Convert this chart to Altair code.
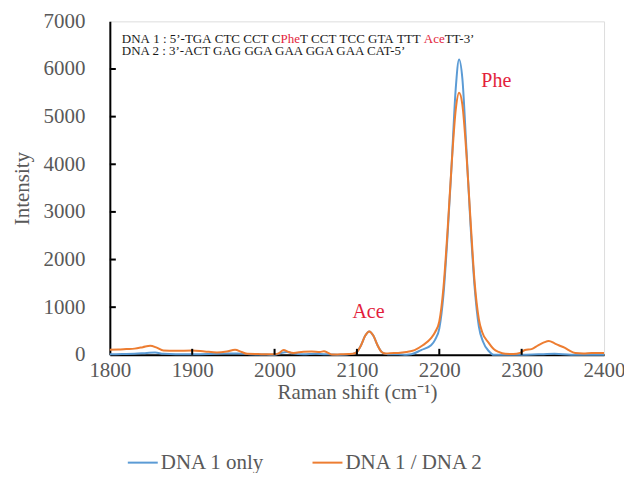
import altair as alt
import pandas as pd

# ---------------- data ----------------
blue_x = [1800, 1815, 1830, 1845, 1855, 1865, 1880, 1900, 1920, 1940, 1955, 1970, 1990, 2000,
          2008, 2015, 2022, 2035, 2050, 2065, 2080, 2095, 2100, 2105, 2110, 2115, 2120, 2125,
          2130, 2135, 2140, 2150, 2160, 2166, 2178, 2190, 2195, 2200, 2205, 2210, 2215, 2220,
          2224, 2228, 2233, 2238, 2243, 2248, 2253, 2260, 2266, 2280, 2300, 2320, 2340, 2360,
          2380, 2400]
blue_y = [10, 15, 20, 40, 50, 20, 10, 10, 15, 25, 30, 10, 5, 0,
          40, 60, 30, 10, 20, 10, 0, 20, 60, 200, 400, 490, 400, 200,
          60, 20, 10, 10, 0, 10, 100, 200, 320, 550, 1250, 2500, 4000, 5600,
          6200, 5800, 4300, 2700, 1400, 600, 280, 80, 0, 0, 0, 10, 20, 0,
          0, 0]

orange_x = [1800, 1810, 1820, 1830, 1840, 1849, 1857, 1865, 1880, 1900, 1915, 1930, 1942, 1952,
            1960, 1967, 1980, 1999, 2005, 2011, 2017, 2023, 2035, 2045, 2055, 2060, 2065, 2070,
            2080, 2090, 2095, 2100, 2105, 2110, 2115, 2120, 2125, 2130, 2135, 2140, 2150, 2160,
            2170, 2180, 2190, 2195, 2200, 2205, 2210, 2215, 2220, 2224, 2228, 2233, 2238, 2243,
            2248, 2252, 2260, 2266, 2272, 2280, 2290, 2298, 2304, 2312, 2320, 2327, 2333, 2340,
            2345, 2352, 2357, 2365, 2375, 2385, 2400]
orange_y = [105, 110, 120, 130, 160, 190, 150, 90, 85, 90, 70, 50, 70, 105,
            60, 20, 15, 10, 30, 100, 60, 40, 65, 70, 60, 75, 40, 5,
            10, 15, 20, 60, 200, 400, 490, 400, 200, 60, 25, 35, 40, 60,
            100, 200, 350, 480, 700, 1400, 2600, 4000, 5150, 5500, 5250, 4200, 2800, 1500,
            750, 480, 250, 120, 60, 20, 15, 40, 100, 120, 200, 260, 290, 240,
            200, 150, 100, 40, 30, 40, 40]

series_names = ["DNA 1 only", "DNA 1 / DNA 2"]
series_colors = ["#5B9BD5", "#ED7D31"]

x_ticks = [1800, 1900, 2000, 2100, 2200, 2300, 2400]
y_ticks = [0, 1000, 2000, 3000, 4000, 5000, 6000, 7000]
inner_x_ticks = [1900, 2000, 2100, 2200, 2300]
inner_y_ticks = [1000, 2000, 3000, 4000, 5000, 6000]

NB = "\u00a0"
line1_parts = ["DNA" + NB + "1" + NB + ":" + NB + "5\u2019-TGA" + NB + "CTC" + NB + "CCT" + NB + "C",
               "Phe",
               "T" + NB + "CCT" + NB + "TCC" + NB + "GTA" + NB + "TTT",
               "Ace",
               "TT-3\u2019"]
line1_gap_after = [0, 0, 0.6, 0, 0]
line1_red = [False, True, False, True, False]
line2_text = "DNA 2 : 3\u2019-ACT GAG GGA GAA GGA GAA CAT-5\u2019"
peak_labels = ["Phe", "Ace"]
peak_label_x = [2251, 2114]
peak_label_y = [5620, 780]

# ---------------- styling ----------------
FONT = "Liberation Serif"
GRAY = "#595959"
RED = "#E31E3C"
W, H = 495, 334
ANN_FS = 13

# Times New Roman advance widths (Liberation Serif is metric compatible)
TW = {" ": 250, NB: 250, "\u2019": 333, "-": 333, ":": 278, "A": 722, "C": 667, "D": 722,
      "G": 722, "N": 722, "T": 611, "P": 556, "h": 500, "e": 444, "c": 444}


def text_width(s, fs):
    return sum(TW.get(ch, 500) for ch in s) * fs / 1000.0


xs = alt.Scale(domain=[1800, 2400], nice=False, zero=False)
ys = alt.Scale(domain=[0, 7000], nice=False)

df = pd.concat([
    pd.DataFrame({"shift": blue_x, "intensity": blue_y, "series": series_names[0]}),
    pd.DataFrame({"shift": orange_x, "intensity": orange_y, "series": series_names[1]}),
])

color = alt.Color("series:N",
                  scale=alt.Scale(domain=series_names, range=series_colors),
                  legend=alt.Legend(orient="none", legendX=17, legendY=426,
                                    direction="horizontal", columns=2, title=None,
                                    symbolType="stroke", symbolSize=900,
                                    symbolStrokeWidth=2, labelFont=FONT,
                                    labelFontSize=21, labelColor=GRAY,
                                    labelOffset=2, columnPadding=44, padding=0))

x_enc = alt.X("shift:Q", scale=xs,
              axis=alt.Axis(values=x_ticks, format="d", title="Raman shift (cm\u207b\u00b9)",
                            grid=False, ticks=False, labelPadding=5, labelFlush=False,
                            labelOverlap=False,
                            domainColor="black", domainWidth=2,
                            labelFont=FONT, labelFontSize=21, labelColor=GRAY,
                            titleFont=FONT, titleFontSize=21, titleColor=GRAY,
                            titleFontWeight="normal", titlePadding=1))
y_enc = alt.Y("intensity:Q", scale=ys,
              axis=alt.Axis(values=y_ticks, format="d", title="Intensity",
                            grid=False, ticks=False, labelPadding=25, labelFlush=False,
                            labelOverlap=False,
                            domainColor="black", domainWidth=2,
                            labelFont=FONT, labelFontSize=21, labelColor=GRAY,
                            titleFont=FONT, titleFontSize=21, titleColor=GRAY,
                            titleFontWeight="normal", titlePadding=10))

blue_layer = alt.Chart(df).transform_filter(alt.datum.series == series_names[0]).mark_line(
    strokeWidth=2, interpolate="monotone").encode(x=x_enc, y=y_enc, color=color)
orange_layer = alt.Chart(df).transform_filter(alt.datum.series == series_names[1]).mark_line(
    strokeWidth=2, interpolate="monotone").encode(x=x_enc, y=y_enc, color=color)

xt = alt.Chart(pd.DataFrame({"shift": inner_x_ticks})).mark_rule(color="black", strokeWidth=2).encode(
    x=x_enc, y=alt.value(H), y2=alt.value(H - 6))
yt = alt.Chart(pd.DataFrame({"intensity": inner_y_ticks})).mark_rule(color="black", strokeWidth=2).encode(
    y=y_enc, x=alt.value(0), x2=alt.value(6))

# annotation text (sequence box)
ANN_X = 1814.6
L1_Y, L2_Y = 6620, 6370
ann_layers = []
offset = 0.0
for part, red, gap in zip(line1_parts, line1_red, line1_gap_after):
    ann_layers.append(
        alt.Chart(pd.DataFrame({"shift": [ANN_X], "intensity": [L1_Y], "t": [part]})).mark_text(
            align="left", baseline="middle", font=FONT, fontSize=ANN_FS,
            color=RED if red else "#1a1a1a", dx=offset).encode(
            x=x_enc, y=y_enc, text="t:N"))
    offset += text_width(part, ANN_FS) + gap * 0.25 * ANN_FS
ann_layers.append(
    alt.Chart(pd.DataFrame({"shift": [ANN_X], "intensity": [L2_Y], "t": [line2_text]})).mark_text(
        align="left", baseline="middle", font=FONT, fontSize=ANN_FS, color="#1a1a1a").encode(
        x=x_enc, y=y_enc, text="t:N"))

phe = alt.Chart(pd.DataFrame({"shift": [peak_label_x[0]], "intensity": [peak_label_y[0]],
                              "t": [peak_labels[0]]})).mark_text(
    align="left", baseline="alphabetic", font=FONT, fontSize=20, color=RED).encode(
    x=x_enc, y=y_enc, text="t:N")
ace = alt.Chart(pd.DataFrame({"shift": [peak_label_x[1]], "intensity": [peak_label_y[1]],
                              "t": [peak_labels[1]]})).mark_text(
    align="center", baseline="alphabetic", font=FONT, fontSize=20, color=RED).encode(
    x=x_enc, y=y_enc, text="t:N")

chart = alt.layer(blue_layer, orange_layer, xt, yt, *ann_layers, phe, ace).properties(
    width=W, height=H,
    autosize=alt.AutoSizeParams(type="none"),
    padding={"left": 102, "top": 13, "right": 20, "bottom": 118},
).configure_view(stroke="black", strokeWidth=2).configure_legend(
    labelFont=FONT, labelFontSize=21, labelColor=GRAY
).configure(background="white", font=FONT)

chart.save("out.html", embed_options={"renderer": "svg", "actions": False})
